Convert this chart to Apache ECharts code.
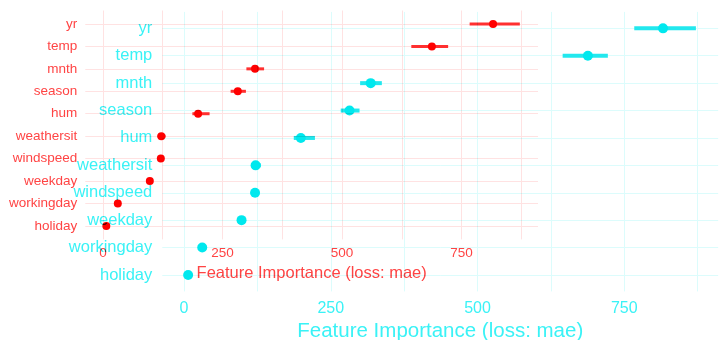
<!DOCTYPE html>
<html><head><meta charset="utf-8">
<script src="https://cdn.jsdelivr.net/npm/echarts@6/dist/echarts.min.js"></script>
<style>
html,body{margin:0;padding:0;background:#fff;}
#wrap{position:relative;width:719px;height:340px;background:#fff;isolation:isolate;}
.c{position:absolute;left:0;top:0;width:719px;height:340px;}
#top{mix-blend-mode:multiply;}
</style></head><body>
<div id="wrap"><div id="under" class="c"></div><div id="top" class="c"></div></div>
<script>
const features = ['yr','temp','mnth','season','hum','weathersit','windspeed','weekday','workingday','holiday'];
const importance = [816, 688, 318, 282, 199, 122, 121, 98, 31, 7];
const lower = [767, 645, 300, 267, 187, 114, 117, 95, 29, 5];
const upper = [872, 722, 337, 299, 223, 131, 125, 101, 34, 9];
const gridTicks = [0, 125, 250, 375, 500, 625, 750, 875];
const labelTicks = [0, 250, 500, 750];
const axisTitle = 'Feature Importance (loss: mae)';

const FONT = 'Liberation Sans, Arial, Helvetica, sans-serif';
const idx = features.map((_, i) => i);

function buildOption(c) {
  return {
    animation: false,
    backgroundColor: 'transparent',
    textStyle: { fontFamily: FONT },
    grid: Object.assign({ containLabel: false, outerBoundsMode: 'none' }, c.grid),
    xAxis: {
      type: 'value', min: -37, max: 910,
      axisLine: { show: false },
      axisTick: { show: false, customValues: gridTicks },
      splitLine: { show: true, lineStyle: { color: c.gridColor, width: 1 } },
      axisLabel: { customValues: labelTicks, color: c.textColor, fontSize: c.xLabelSize, margin: c.xLabelMargin, fontFamily: FONT },
      name: axisTitle, nameLocation: 'middle', nameGap: c.nameGap,
      nameTextStyle: { color: c.textColor, fontSize: c.titleSize, fontFamily: FONT }
    },
    yAxis: {
      type: 'value', inverse: true, min: -0.6, max: 9.6,
      axisLine: { show: false },
      axisTick: { show: false, customValues: idx },
      splitLine: { show: true, lineStyle: { color: c.gridColor, width: 1 } },
      axisLabel: { customValues: idx, formatter: v => features[Math.round(v)], color: c.textColor, fontSize: c.yLabelSize, margin: c.yLabelMargin, fontFamily: FONT }
    },
    series: [
      {
        type: 'custom',
        data: features.map((f, i) => [lower[i], upper[i], i]),
        encode: { x: [0, 1], y: 2 },
        renderItem: function (params, api) {
          const p1 = api.coord([api.value(0), api.value(2)]);
          const p2 = api.coord([api.value(1), api.value(2)]);
          return { type: 'line', shape: { x1: p1[0], y1: p1[1], x2: p2[0], y2: p2[1] },
                   style: { stroke: c.barColor, lineWidth: c.barWidth, lineCap: 'butt' } };
        },
        z: 2
      },
      {
        type: 'scatter',
        data: features.map((f, i) => [importance[i], i]),
        symbol: 'circle', symbolSize: c.pointSize,
        itemStyle: { color: c.pointColor, opacity: 1 },
        z: 3
      }
    ]
  };
}

const cyanChart = echarts.init(document.getElementById('under'), null, { renderer: 'canvas' });
cyanChart.setOption(buildOption({
  grid: { left: 162.3, top: 11.9, width: 555.9, height: 279.5 },
  gridColor: '#dcfcfc', textColor: '#3af2f6', pointColor: '#00e8ee', barColor: '#22e8ee',
  xLabelSize: 16, xLabelMargin: 9, yLabelSize: 16.5, yLabelMargin: 10,
  titleSize: 20.5, nameGap: 28, barWidth: 4, pointSize: 10
}));

const redChart = echarts.init(document.getElementById('top'), null, { renderer: 'canvas' });
redChart.setOption(buildOption({
  grid: { left: 85.3, top: 10.5, width: 452.7, height: 228.9 },
  gridColor: '#ffe2e2', textColor: '#ff4444', pointColor: '#ff0000', barColor: '#ff3030',
  xLabelSize: 13.5, xLabelMargin: 7, yLabelSize: 13.5, yLabelMargin: 8,
  titleSize: 16.5, nameGap: 20, barWidth: 3, pointSize: 8
}));
</script>
</body></html>
